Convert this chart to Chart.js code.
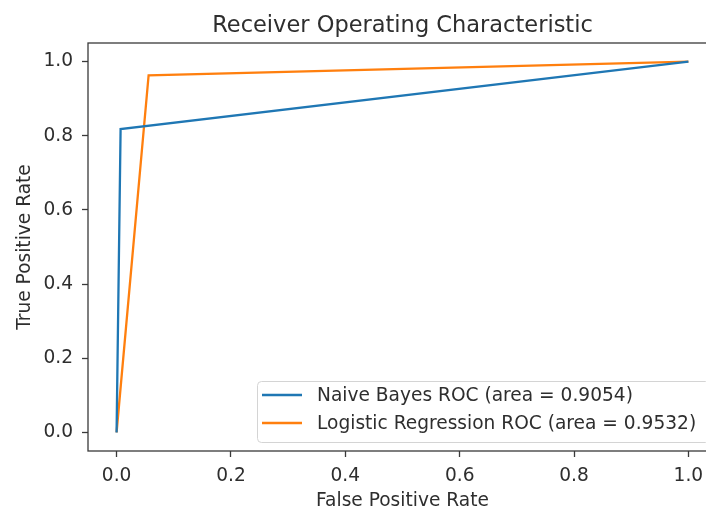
<!DOCTYPE html>
<html>
<head>
<meta charset="utf-8">
<script src="https://cdn.jsdelivr.net/npm/chart.js@4.4.0/dist/chart.umd.min.js"></script>
<style>
  html, body { margin: 0; padding: 0; background: #fff; overflow: hidden; }
  #wrap { width: 730px; height: 512px; }
</style>
</head>
<body>
<div id="wrap"><canvas id="roc" width="730" height="512"></canvas></div>
<script>
const NB_FPR = [0, 0.007, 1];
const NB_TPR = [0, 0.818, 1];
const LR_FPR = [0, 0.056, 1];
const LR_TPR = [0, 0.963, 1];
const SERIES_LABELS = ["Naive Bayes ROC (area = 0.9054)", "Logistic Regression ROC (area = 0.9532)"];
const TICKS = [0, 0.2, 0.4, 0.6, 0.8, 1.0];

const FONT = "'DejaVu Sans', sans-serif";
const TEXT = "#2e2e2e";
const COLORS = ["#1f77b4", "#ff7f0e"];

function toPoints(xs, ys) {
  return xs.map((x, i) => ({ x, y: ys[i] }));
}

// matplotlib-style frame: spines on all four sides
const framePlugin = {
  id: "frame",
  afterDatasetsDraw(chart) {
    const { ctx, chartArea: a } = chart;
    ctx.save();
    ctx.strokeStyle = "#3a3a3a";
    ctx.lineWidth = 1.3;
    ctx.strokeRect(a.left, a.top, a.right - a.left, a.bottom - a.top);
    ctx.restore();
  },
};

// legend box in the lower right of the axes
const innerLegend = {
  id: "innerLegend",
  afterDraw(chart) {
    const { ctx } = chart;
    const box = { x: 257, y: 381, w: 452, h: 61 };
    ctx.save();
    ctx.fillStyle = "rgba(255,255,255,0.85)";
    ctx.strokeStyle = "#d4d4d4";
    ctx.lineWidth = 1;
    ctx.beginPath();
    ctx.roundRect(box.x + 0.5, box.y + 0.5, box.w, box.h, 4);
    ctx.fill();
    ctx.stroke();
    ctx.font = "18.6px " + FONT;
    ctx.textBaseline = "middle";
    chart.data.datasets.forEach((ds, i) => {
      const y = box.y + 14 + i * 28;
      ctx.strokeStyle = ds.borderColor;
      ctx.lineWidth = 2.3;
      ctx.beginPath();
      ctx.moveTo(box.x + 5, y);
      ctx.lineTo(box.x + 45, y);
      ctx.stroke();
      ctx.fillStyle = TEXT;
      ctx.fillText(ds.label, box.x + 60, y + 1);
    });
    ctx.restore();
  },
};

const axisCommon = {
  type: "linear",
  min: -0.05,
  max: 1.05,
  afterBuildTicks(scale) {
    scale.ticks = TICKS.map((v) => ({ value: v }));
  },
  grid: { drawOnChartArea: false, drawTicks: true, tickLength: 6, tickColor: "#3a3a3a", tickWidth: 1.3 },
  border: { display: false },
};

new Chart(document.getElementById("roc"), {
  type: "line",
  data: {
    datasets: [
      { label: SERIES_LABELS[0], data: toPoints(NB_FPR, NB_TPR), borderColor: COLORS[0] },
      { label: SERIES_LABELS[1], data: toPoints(LR_FPR, LR_TPR), borderColor: COLORS[1] },
    ].map((d) => ({ ...d, borderWidth: 2.3, pointRadius: 0, tension: 0, fill: false })),
  },
  options: {
    animation: false,
    responsive: false,
    layout: { padding: { left: 0, right: 13, top: 0, bottom: 0 } },
    plugins: {
      legend: { display: false },
      tooltip: { enabled: false },
      title: {
        display: true,
        fullSize: false,
        text: "Receiver Operating Characteristic",
        color: TEXT,
        font: { family: FONT, size: 22.5, weight: "normal" },
        padding: { top: 13, bottom: 3 },
      },
    },
    scales: {
      x: {
        ...axisCommon,
        ticks: { color: TEXT, font: { family: FONT, size: 18.6 }, padding: 8, maxRotation: 0, callback: (v) => v.toFixed(1) },
        title: { display: true, text: "False Positive Rate", color: TEXT, font: { family: FONT, size: 18.6 }, padding: { top: 0, bottom: 0 } },
        afterFit(scale) { scale.height = 61; },
      },
      y: {
        ...axisCommon,
        ticks: { color: TEXT, font: { family: FONT, size: 18.6 }, padding: 9, callback: (v) => v.toFixed(1) },
        title: { display: true, text: "True Positive Rate", color: TEXT, font: { family: FONT, size: 18.6 }, padding: { top: 14, bottom: 0 } },
        afterFit(scale) { scale.width = 88; },
      },
    },
  },
  plugins: [framePlugin, innerLegend],
});
</script>
</body>
</html>
